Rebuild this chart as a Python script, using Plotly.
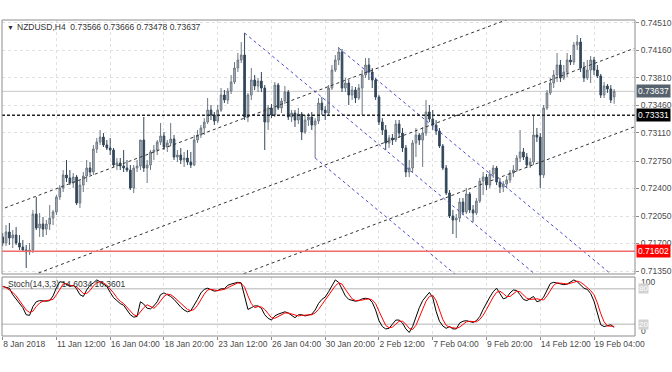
import plotly.graph_objects as go

# ---------------- data ----------------
bar_index = list(range(183))

opens = [
    0.71783, 0.71706, 0.71846, 0.71770, 0.71808, 0.71706, 0.71655, 0.71617, 0.71592, 0.71617,
    0.72075, 0.71897, 0.71948, 0.71884, 0.71948, 0.72024, 0.72101, 0.72292, 0.72406, 0.72572,
    0.72534, 0.72470, 0.72546, 0.72215, 0.72444, 0.72559, 0.72661, 0.72610, 0.72903, 0.72992,
    0.73055, 0.72954, 0.72916, 0.72890, 0.72699, 0.72725, 0.72686, 0.72661, 0.72635, 0.72406,
    0.72661, 0.72686, 0.73017, 0.72661, 0.72699, 0.72865, 0.72890, 0.72992, 0.73068, 0.72928,
    0.72979, 0.73030, 0.72801, 0.72826, 0.72763, 0.72788, 0.72737, 0.72699, 0.73017, 0.73081,
    0.73170, 0.73246, 0.73399, 0.73336, 0.73259, 0.73399, 0.73590, 0.73527, 0.73641, 0.73756,
    0.73934, 0.74036, 0.74099, 0.73310, 0.73590, 0.73781, 0.73705, 0.73768, 0.73679, 0.73246,
    0.73425, 0.73336, 0.73717, 0.73425, 0.73514, 0.73628, 0.73310, 0.73361, 0.73272, 0.73348,
    0.73119, 0.73272, 0.73310, 0.73208, 0.73259, 0.73488, 0.73399, 0.73361, 0.73679, 0.73908,
    0.74036, 0.74138, 0.73679, 0.73743, 0.73590, 0.73654, 0.73552, 0.73679, 0.73845, 0.73972,
    0.73883, 0.73781, 0.73565, 0.73246, 0.73145, 0.72979, 0.73043, 0.73017, 0.73221, 0.73106,
    0.72916, 0.72610, 0.72661, 0.72979, 0.73081, 0.73017, 0.73106, 0.73374, 0.73285, 0.73208,
    0.73132, 0.72941, 0.72661, 0.72343, 0.72050, 0.71999, 0.72024, 0.72228, 0.72101, 0.72330,
    0.72127, 0.72088, 0.72241, 0.72495, 0.72546, 0.72444, 0.72584, 0.72661, 0.72483, 0.72419,
    0.72457, 0.72508, 0.72597, 0.72635, 0.72788, 0.72865, 0.72801, 0.72699, 0.72737, 0.73081,
    0.73055, 0.72572, 0.73425, 0.73616, 0.73743, 0.73845, 0.73972, 0.73807, 0.73883, 0.74036,
    0.74010, 0.74227, 0.74265, 0.73934, 0.73807, 0.73908, 0.74036, 0.73908, 0.73833, 0.73590,
    0.73705, 0.73667, 0.73566,
]

highs = [
    0.71833, 0.71935, 0.71961, 0.71872, 0.71910, 0.71808, 0.71744, 0.71681, 0.71706, 0.72127,
    0.72292, 0.72088, 0.72037, 0.71999, 0.72190, 0.72127, 0.72317, 0.72444, 0.72635, 0.72763,
    0.72635, 0.72597, 0.72572, 0.72508, 0.72610, 0.72763, 0.72737, 0.72954, 0.73043, 0.73145,
    0.73106, 0.73017, 0.73043, 0.72916, 0.72788, 0.72788, 0.72890, 0.72763, 0.72699, 0.72699,
    0.72763, 0.73017, 0.73310, 0.72763, 0.72890, 0.72954, 0.73017, 0.73234, 0.73119, 0.73017,
    0.73234, 0.73081, 0.72890, 0.72916, 0.72865, 0.72890, 0.72865, 0.73081, 0.73145, 0.73208,
    0.73297, 0.73552, 0.73463, 0.73374, 0.73463, 0.73679, 0.73654, 0.73679, 0.73845, 0.74010,
    0.74125, 0.74265, 0.74379, 0.73616, 0.73934, 0.73845, 0.73807, 0.73883, 0.73717, 0.73463,
    0.73476, 0.73756, 0.73743, 0.73552, 0.73705, 0.73654, 0.73399, 0.73399, 0.73425, 0.73374,
    0.73336, 0.73361, 0.73374, 0.73297, 0.73552, 0.73565, 0.73450, 0.73717, 0.73972, 0.74099,
    0.74201, 0.74176, 0.73807, 0.73781, 0.73705, 0.73692, 0.73730, 0.73908, 0.74061, 0.74061,
    0.73934, 0.73807, 0.73590, 0.73297, 0.73208, 0.73081, 0.73094, 0.73272, 0.73272, 0.73170,
    0.72954, 0.72763, 0.73017, 0.73170, 0.73106, 0.73183, 0.73527, 0.73463, 0.73399, 0.73272,
    0.73170, 0.72966, 0.72699, 0.72381, 0.72127, 0.72075, 0.72279, 0.72279, 0.72406, 0.72355,
    0.72190, 0.72279, 0.72534, 0.72610, 0.72584, 0.72635, 0.72699, 0.72686, 0.72534, 0.72495,
    0.72559, 0.72635, 0.72699, 0.72826, 0.73145, 0.72916, 0.72852, 0.72788, 0.73336, 0.73170,
    0.73106, 0.73463, 0.73654, 0.73807, 0.73908, 0.74125, 0.74036, 0.73972, 0.74125, 0.74099,
    0.74265, 0.74354, 0.74316, 0.74010, 0.74036, 0.74087, 0.74074, 0.73972, 0.73858, 0.73756,
    0.73730, 0.73717, 0.73666,
]

lows = [
    0.71668, 0.71668, 0.71681, 0.71642, 0.71681, 0.71617, 0.71592, 0.71388, 0.71553, 0.71579,
    0.71872, 0.71783, 0.71783, 0.71808, 0.71872, 0.71935, 0.72063, 0.72254, 0.72355, 0.72483,
    0.72444, 0.72406, 0.72190, 0.72152, 0.72355, 0.72483, 0.72572, 0.72572, 0.72852, 0.72954,
    0.72928, 0.72890, 0.72826, 0.72674, 0.72635, 0.72635, 0.72610, 0.72610, 0.72381, 0.72343,
    0.72610, 0.72635, 0.72610, 0.72470, 0.72635, 0.72763, 0.72826, 0.72954, 0.72890, 0.72865,
    0.72941, 0.72763, 0.72737, 0.72712, 0.72674, 0.72699, 0.72661, 0.72686, 0.72979, 0.73043,
    0.73081, 0.73221, 0.73272, 0.73208, 0.73234, 0.73374, 0.73488, 0.73476, 0.73603, 0.73730,
    0.73883, 0.73998, 0.73272, 0.73246, 0.73527, 0.73654, 0.73628, 0.73628, 0.72890, 0.73145,
    0.73297, 0.73310, 0.73399, 0.73361, 0.73476, 0.73272, 0.73246, 0.73183, 0.73221, 0.73017,
    0.73094, 0.73196, 0.73145, 0.72788, 0.73221, 0.73336, 0.73272, 0.73323, 0.73654, 0.73883,
    0.73972, 0.73628, 0.73628, 0.73463, 0.73527, 0.73488, 0.73527, 0.73336, 0.73807, 0.73781,
    0.73679, 0.73527, 0.73208, 0.73081, 0.72890, 0.72916, 0.72954, 0.72992, 0.73043, 0.72865,
    0.72546, 0.72546, 0.72610, 0.72801, 0.72954, 0.72674, 0.73068, 0.73246, 0.73145, 0.73081,
    0.72916, 0.72635, 0.72317, 0.72024, 0.71821, 0.71770, 0.71973, 0.72063, 0.72075, 0.72088,
    0.71973, 0.72063, 0.72215, 0.72317, 0.72381, 0.72406, 0.72534, 0.72444, 0.72343, 0.72355,
    0.72406, 0.72470, 0.72546, 0.72610, 0.72737, 0.72763, 0.72661, 0.72661, 0.72699, 0.72992,
    0.72406, 0.72534, 0.73399, 0.73590, 0.73679, 0.73756, 0.73756, 0.73781, 0.73819, 0.73972,
    0.73972, 0.74163, 0.73883, 0.73756, 0.73781, 0.73743, 0.73845, 0.73807, 0.73552, 0.73552,
    0.73616, 0.73488, 0.73478,
]

closes = [
    0.71706, 0.71846, 0.71770, 0.71808, 0.71706, 0.71655, 0.71617, 0.71592, 0.71617, 0.72075,
    0.71897, 0.71948, 0.71884, 0.71948, 0.72024, 0.72101, 0.72292, 0.72406, 0.72572, 0.72534,
    0.72470, 0.72546, 0.72215, 0.72444, 0.72559, 0.72661, 0.72610, 0.72903, 0.72992, 0.73055,
    0.72954, 0.72916, 0.72890, 0.72699, 0.72725, 0.72686, 0.72661, 0.72635, 0.72406, 0.72661,
    0.72686, 0.73017, 0.72661, 0.72699, 0.72865, 0.72890, 0.72992, 0.73068, 0.72928, 0.72979,
    0.73030, 0.72801, 0.72826, 0.72763, 0.72788, 0.72737, 0.72699, 0.73017, 0.73081, 0.73170,
    0.73246, 0.73399, 0.73336, 0.73259, 0.73399, 0.73590, 0.73527, 0.73641, 0.73756, 0.73934,
    0.74036, 0.74099, 0.73310, 0.73590, 0.73781, 0.73705, 0.73768, 0.73679, 0.73246, 0.73425,
    0.73336, 0.73717, 0.73425, 0.73514, 0.73628, 0.73310, 0.73361, 0.73272, 0.73348, 0.73119,
    0.73272, 0.73310, 0.73208, 0.73259, 0.73488, 0.73399, 0.73361, 0.73679, 0.73908, 0.74036,
    0.74138, 0.73679, 0.73743, 0.73590, 0.73654, 0.73552, 0.73679, 0.73845, 0.73972, 0.73883,
    0.73781, 0.73565, 0.73246, 0.73145, 0.72979, 0.73043, 0.73017, 0.73221, 0.73106, 0.72916,
    0.72610, 0.72661, 0.72979, 0.73081, 0.73017, 0.73106, 0.73374, 0.73285, 0.73208, 0.73132,
    0.72941, 0.72661, 0.72343, 0.72050, 0.71999, 0.72024, 0.72228, 0.72101, 0.72330, 0.72127,
    0.72088, 0.72241, 0.72495, 0.72546, 0.72444, 0.72584, 0.72661, 0.72483, 0.72419, 0.72457,
    0.72508, 0.72597, 0.72635, 0.72788, 0.72865, 0.72801, 0.72699, 0.72737, 0.73081, 0.73055,
    0.72572, 0.73425, 0.73616, 0.73743, 0.73845, 0.73972, 0.73807, 0.73883, 0.74036, 0.74010,
    0.74227, 0.74265, 0.73934, 0.73807, 0.73908, 0.74036, 0.73908, 0.73833, 0.73590, 0.73705,
    0.73667, 0.73527, 0.73637,
]

stoch_k = [
    84, 83, 81, 70, 62, 55, 48, 36, 35, 50,
    58, 60, 59, 59, 60, 68, 82, 92, 91, 88,
    84, 86, 80, 70, 67, 78, 86, 90, 95, 92,
    88, 84, 74, 65, 60, 55, 52, 45, 36, 32,
    33, 58, 54, 47, 46, 51, 58, 70, 73, 70,
    67, 62, 55, 49, 44, 41, 43, 52, 62, 73,
    79, 81, 78, 76, 77, 80, 80, 86, 88, 90,
    91, 90, 68, 45, 48, 51, 51, 47, 36, 30,
    27, 34, 37, 39, 41, 39, 35, 31, 36, 36,
    34, 36, 37, 44, 55, 62, 66, 75, 85, 95,
    91, 78, 68, 62, 60, 59, 60, 63, 64, 63,
    57, 44, 26, 16, 12, 13, 20, 27, 27, 22,
    12, 6, 16, 32, 48, 60, 68, 74, 65, 42,
    25, 17, 13, 16, 12, 12, 22, 25, 26, 24,
    23, 26, 33, 45, 56, 66, 75, 81, 72, 63,
    65, 73, 78, 77, 70, 62, 60, 63, 67, 58,
    60, 66, 78, 89, 91, 90, 89, 87, 88, 91,
    95, 92, 87, 81, 79, 72, 59, 37, 19, 16,
    17, 19, 14.6034,
]

stoch_d = [
    84, 82, 78, 74, 68, 60, 52, 44, 40, 42,
    50, 56, 59, 60, 60, 62, 70, 80, 88, 89,
    86, 85, 83, 78, 72, 72, 77, 85, 90, 92,
    90, 86, 80, 73, 65, 59, 55, 49, 42, 36,
    34, 42, 48, 53, 50, 47, 52, 60, 67, 71,
    70, 66, 61, 56, 50, 45, 43, 45, 52, 62,
    71, 78, 79, 78, 77, 78, 79, 82, 85, 88,
    90, 89, 83, 68, 55, 48, 50, 49, 45, 38,
    31, 30, 33, 37, 39, 39, 37, 35, 34, 35,
    35, 35, 36, 39, 45, 53, 61, 68, 75, 85,
    90, 88, 79, 70, 63, 60, 60, 61, 62, 63,
    61, 55, 42, 29, 18, 14, 15, 20, 25, 25,
    20, 13, 11, 18, 32, 47, 59, 67, 69, 60,
    44, 28, 18, 15, 14, 13, 15, 20, 24, 25,
    24, 24, 28, 35, 45, 56, 66, 74, 76, 72,
    67, 67, 72, 76, 75, 70, 64, 62, 63, 63,
    62, 61, 68, 78, 86, 90, 90, 89, 88, 89,
    91, 93, 91, 87, 82, 77, 70, 56, 38, 24,
    17, 17, 16.3601,
]

tick_idx = [0, 16, 32, 48, 64, 80, 96, 112, 128, 144, 160, 176]
tick_labels = ["8 Jan 2018", "11 Jan 12:00", "16 Jan 04:00", "18 Jan 20:00",
               "23 Jan 12:00", "26 Jan 04:00", "30 Jan 20:00", "2 Feb 12:00",
               "7 Feb 04:00", "9 Feb 20:00", "14 Feb 12:00", "19 Feb 04:00"]

price_ticks = [0.74510, 0.74160, 0.73810, 0.73460, 0.73110,
               0.72750, 0.72400, 0.72050, 0.71700, 0.71350]

# drawn objects (bar index, price)
channel_start_i = [-1, -1, 60]
channel_start_p = [0.72126, 0.71136, 0.71127]
channel_end_i = [188, 188, 188]
channel_end_p = [0.75158, 0.74184, 0.73185]

down_start_i = [72, 100, 93]
down_start_p = [0.74379, 0.74188, 0.72788]
down_end_i = [188, 188, 188]
down_end_p = [0.70261, 0.71064, 0.69416]

resistance_level = 0.73331
support_level = 0.71602
last_price = 0.73637
stoch_levels = [80, 20]

title_text = "NZDUSD,H4&nbsp;&nbsp;0.73566 0.73666 0.73478 0.73637"
stoch_text = "Stoch(14,3,3) 14.6034 16.3601"

# ---------------- figure ----------------
FONT = "Liberation Sans"
TXT = "#4a4a4a"
GRID = "#e0e0e0"
FRAME = "#8c8c8c"

W, H = 672, 372
ML, MR, MT, MB = 2, 37, 20, 36
ph = H - MT - MB
main_bottom_px = 274
stoch_top_px = 277
main_dom0 = (H - MB - main_bottom_px) / ph
stoch_dom1 = (H - MB - stoch_top_px) / ph

fig = go.Figure()

fig.add_trace(go.Candlestick(
    x=bar_index, open=opens, high=highs, low=lows, close=closes,
    xaxis="x", yaxis="y",
    increasing=dict(fillcolor="#b4bcc4", line=dict(color="#6e7882", width=1)),
    decreasing=dict(fillcolor="#33475a", line=dict(color="#33475a", width=1)),
    whiskerwidth=0, showlegend=False, hoverinfo="skip",
))

for a, b, c, d in zip(channel_start_i, channel_start_p, channel_end_i, channel_end_p):
    fig.add_trace(go.Scatter(x=[a, c], y=[b, d], mode="lines", xaxis="x", yaxis="y",
                             line=dict(color="#333333", width=1, dash="3px,3px"),
                             showlegend=False, hoverinfo="skip"))

for a, b, c, d in zip(down_start_i, down_start_p, down_end_i, down_end_p):
    fig.add_trace(go.Scatter(x=[a, c], y=[b, d], mode="lines", xaxis="x", yaxis="y",
                             line=dict(color="#4c4cc8", width=1, dash="3px,3px"),
                             showlegend=False, hoverinfo="skip"))

fig.add_trace(go.Scatter(x=bar_index, y=stoch_k, mode="lines", xaxis="x2", yaxis="y2",
                         line=dict(color="#000000", width=1), showlegend=False, hoverinfo="skip"))
fig.add_trace(go.Scatter(x=bar_index, y=stoch_d, mode="lines", xaxis="x2", yaxis="y2",
                         line=dict(color="#ff0000", width=1), showlegend=False, hoverinfo="skip"))

xr = [-0.2, 188.2]
shapes = [
    dict(type="line", xref="paper", yref="y", x0=0, x1=1, y0=last_price, y1=last_price,
         line=dict(color="#c8c8c8", width=1), layer="below"),
    dict(type="line", xref="paper", yref="y", x0=0, x1=1, y0=resistance_level, y1=resistance_level,
         line=dict(color="#222222", width=1.5, dash="3px,2px")),
    dict(type="line", xref="paper", yref="y", x0=0, x1=1, y0=support_level, y1=support_level,
         line=dict(color="#f26b6b", width=1.5)),
    dict(type="rect", xref="paper", yref="paper", x0=0, x1=1, y0=main_dom0, y1=1,
         line=dict(color=FRAME, width=1)),
    dict(type="rect", xref="paper", yref="paper", x0=0, x1=1, y0=0, y1=stoch_dom1,
         line=dict(color=FRAME, width=1)),
]
for lv in stoch_levels:
    shapes.append(dict(type="line", xref="paper", yref="y2", x0=0, x1=1, y0=lv, y1=lv,
                       line=dict(color="#cccccc", width=1.5), layer="below"))

def paper_y(px):
    return (H - MB - px) / ph

annotations = [
    dict(xref="paper", yref="paper", x=0, y=paper_y(27), xanchor="left", yanchor="middle",
         xshift=3, text="▼", showarrow=False, font=dict(family=FONT, size=7, color="#333333")),
    dict(xref="paper", yref="paper", x=0, y=paper_y(27), xanchor="left", yanchor="middle",
         xshift=13, text=title_text, showarrow=False, font=dict(family=FONT, size=8.5, color="#333333")),
    dict(xref="paper", yref="paper", x=0, y=paper_y(284), xanchor="left", yanchor="middle",
         xshift=4, text=stoch_text, showarrow=False, font=dict(family=FONT, size=8.5, color="#333333")),
]
for val, bg in [(last_price, "#56626d"), (resistance_level, "#000000"), (support_level, "#ff0000")]:
    annotations.append(dict(xref="paper", yref="y", x=1, y=val, xanchor="left", yanchor="middle",
                            xshift=1, text=f"{val:.5f}", showarrow=False, bgcolor=bg, borderpad=1,
                            font=dict(family=FONT, size=8.5, color="#ffffff")))
annotations.append(dict(xref="paper", yref="paper", x=1, y=paper_y(282), xanchor="left", yanchor="middle",
                        xshift=4, text="100", showarrow=False, font=dict(family=FONT, size=8.5, color=TXT)))
annotations.append(dict(xref="paper", yref="paper", x=1, y=paper_y(331), xanchor="left", yanchor="middle",
                        xshift=4, text="0", showarrow=False, font=dict(family=FONT, size=8.5, color=TXT)))
for lv in stoch_levels:
    annotations.append(dict(xref="paper", yref="y2", x=1, y=lv, xanchor="left", yanchor="middle",
                            xshift=3, text=str(lv), showarrow=False, bgcolor="#d2d2d2", borderpad=0,
                            font=dict(family=FONT, size=8, color="#ffffff")))

fig.update_layout(
    width=W, height=H,
    margin=dict(l=ML, r=MR, t=MT, b=MB),
    paper_bgcolor="#ffffff", plot_bgcolor="#ffffff",
    showlegend=False,
    font=dict(family=FONT, size=8.5, color=TXT),
    xaxis=dict(domain=[0, 1], anchor="y", range=xr, tickvals=tick_idx, showticklabels=False,
               showgrid=True, gridcolor=GRID, griddash="dot", gridwidth=1, zeroline=False,
               ticks="", rangeslider=dict(visible=False), fixedrange=True),
    yaxis=dict(domain=[main_dom0, 1], anchor="x", side="right", range=[0.713118, 0.74545],
               tickvals=price_ticks, ticktext=[f"{p:.5f}" for p in price_ticks],
               ticks="outside", ticklen=3, tickcolor=FRAME, showgrid=True, gridcolor=GRID,
               griddash="dot", gridwidth=1, zeroline=False, automargin=False,
               tickfont=dict(size=8.5, color=TXT)),
    xaxis2=dict(domain=[0, 1], anchor="y2", range=xr, tickvals=tick_idx, ticktext=tick_labels,
                ticklabelposition="outside right", ticks="outside", ticklen=3, tickcolor=FRAME,
                tickangle=0, automargin=False,
                showgrid=True, gridcolor=GRID, griddash="dot", gridwidth=1, zeroline=False,
                tickfont=dict(size=8.5, color=TXT)),
    yaxis2=dict(domain=[0, stoch_dom1], anchor="x2", range=[0, 100], showticklabels=False,
                showgrid=False, zeroline=False),
    shapes=shapes,
    annotations=annotations,
)

fig.write_html("out.html",
               config={"displayModeBar": False},
               post_script="document.body.style.margin='0px';document.body.style.overflow='hidden';")
